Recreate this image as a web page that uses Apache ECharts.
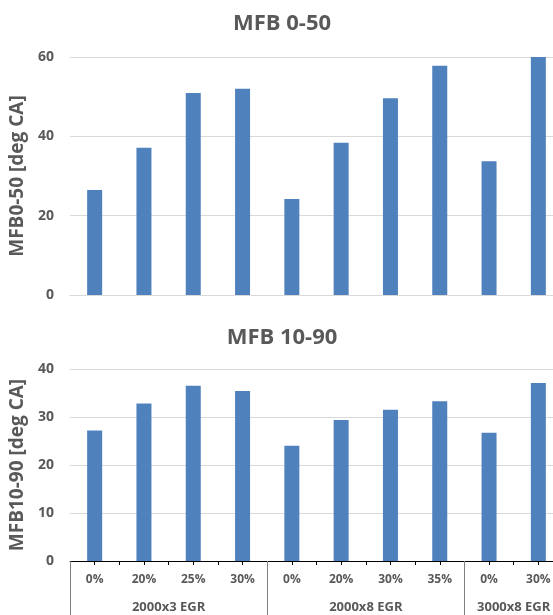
<!DOCTYPE html>
<html>
<head>
<meta charset="utf-8">
<script src="https://cdn.jsdelivr.net/npm/echarts@6/dist/echarts.min.js"></script>
<style>
html,body{margin:0;padding:0;background:#fff;}
#c{width:553px;height:615px;}
</style>
</head>
<body>
<div id="c"></div>
<script>
const categories = ['0%','20%','25%','30%','0%','20%','30%','35%','0%','30%'];
const groupNames = ['2000x3 EGR','2000x8 EGR','3000x8 EGR'];
const groupSizes = [4,4,2];
const mfb0_50 = [26.5,37.1,50.9,52.0,24.2,38.4,49.6,57.8,33.7,60];
const mfb10_90 = [27.2,32.8,36.5,35.4,24.0,29.4,31.5,33.3,26.7,37.1];
const titles = ['MFB 0-50','MFB 10-90'];
const yNames = ['MFB0-50 [deg CA]','MFB10-90 [deg CA]'];

const FONT = '"Open Sans", sans-serif';
const GREY = '#595959';
const GRID = '#d9d9d9';
const BLUE = '#4f81bd';

// group boundaries and centers (in category units)
const bounds = [0];
groupSizes.forEach(s => bounds.push(bounds[bounds.length-1] + s));
const centers = groupSizes.map((s,i) => bounds[i] + s/2);
const innerBounds = [];
for (let i = 1; i < categories.length; i++) if (bounds.indexOf(i) < 0) innerBounds.push(i);

const chart = echarts.init(document.getElementById('c'), null, {renderer:'canvas'});

const yLabel = {color: GREY, fontFamily: FONT, fontWeight: 'bold', fontSize: 14, margin: 16};
const yNameStyle = {color: GREY, fontFamily: FONT, fontWeight: 'bold', fontSize: 19};

chart.setOption({
  animation: false,
  title: [
    {text: titles[0], left: 277, top: 8, textAlign: 'center',
     textStyle: {color: GREY, fontFamily: FONT, fontWeight: 'bold', fontSize: 22}},
    {text: titles[1], left: 277, top: 322, textAlign: 'center',
     textStyle: {color: GREY, fontFamily: FONT, fontWeight: 'bold', fontSize: 22}}
  ],
  grid: [
    {left: 70, width: 493, top: 57, height: 238, outerBoundsMode: 'none', containLabel: false},
    {left: 70, width: 493, top: 369, height: 192, outerBoundsMode: 'none', containLabel: false}
  ],
  xAxis: [
    {type: 'category', gridIndex: 0, data: categories, position: 'bottom',
     axisLine: {lineStyle: {color: GRID, width: 1}}, axisTick: {show: false}, axisLabel: {show: false}},
    {type: 'category', gridIndex: 1, data: categories, position: 'bottom',
     axisLine: {lineStyle: {color: '#000', width: 1}},
     axisTick: {show: true, alignWithLabel: true, length: 4, lineStyle: {color: '#000'}},
     axisLabel: {color: GREY, fontFamily: FONT, fontWeight: 'bold', fontSize: 12, margin: 13, interval: 0}},
    {type: 'value', gridIndex: 1, min: 0, max: categories.length, position: 'bottom',
     axisLine: {show: false}, splitLine: {show: false},
     axisTick: {show: true, length: 4, customValues: innerBounds, lineStyle: {color: '#000'}},
     axisLabel: {show: false}},
    {type: 'value', gridIndex: 1, min: 0, max: categories.length, position: 'bottom',
     axisLine: {show: false}, splitLine: {show: false},
     axisTick: {show: true, length: 55, customValues: bounds.slice(0, -1), lineStyle: {color: '#808080'}},
     axisLabel: {show: true, customValues: centers, margin: 40,
       formatter: v => { const i = centers.indexOf(v); return i >= 0 ? groupNames[i] : ''; },
       color: GREY, fontFamily: FONT, fontWeight: 'bold', fontSize: 13}}
  ],
  yAxis: [
    {type: 'value', gridIndex: 0, min: 0, max: 60, interval: 20,
     name: yNames[0], nameLocation: 'middle', nameGap: 41, nameTextStyle: yNameStyle,
     axisLine: {show: false}, axisTick: {show: false}, axisLabel: yLabel,
     splitLine: {lineStyle: {color: GRID, width: 1}}},
    {type: 'value', gridIndex: 1, min: 0, max: 40, interval: 10,
     name: yNames[1], nameLocation: 'middle', nameGap: 41, nameTextStyle: yNameStyle,
     axisLine: {show: false}, axisTick: {show: false}, axisLabel: yLabel,
     splitLine: {lineStyle: {color: GRID, width: 1}}}
  ],
  series: [
    {type: 'bar', xAxisIndex: 0, yAxisIndex: 0, data: mfb0_50, barWidth: 15,
     itemStyle: {color: BLUE}},
    {type: 'bar', xAxisIndex: 1, yAxisIndex: 1, data: mfb10_90, barWidth: 15,
     itemStyle: {color: BLUE}}
  ]
});
</script>
</body>
</html>
